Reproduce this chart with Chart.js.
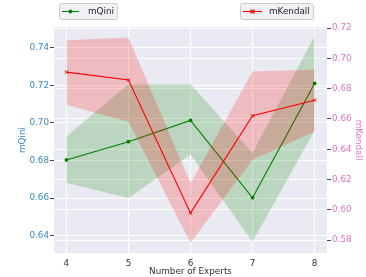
<!DOCTYPE html>
<html>
<head>
<meta charset="utf-8">
<script src="https://cdn.jsdelivr.net/npm/chart.js@4"></script>
<style>
  html, body { margin: 0; padding: 0; background: #fff; }
  #wrap { width: 366px; height: 277px; }
</style>
</head>
<body>
<div id="wrap"><canvas id="chart"></canvas></div>
<script>
// values
const experts = [4, 5, 6, 7, 8];

const qiniMean  = [0.6803, 0.6900, 0.7013, 0.6602, 0.7210];
const qiniUpper = [0.6928, 0.7205, 0.7205, 0.6840, 0.7462];
const qiniLower = [0.6680, 0.6600, 0.6832, 0.6368, 0.6960];

const kendallMean  = [0.6909, 0.6857, 0.5978, 0.6621, 0.6724];
const kendallUpper = [0.7120, 0.7137, 0.6176, 0.6913, 0.6924];
const kendallLower = [0.6694, 0.6581, 0.5782, 0.6330, 0.6517];

const xTicks = [4, 5, 6, 7, 8];
const qiniTicks = [0.64, 0.66, 0.68, 0.70, 0.72, 0.74];
const kendallTicks = [0.58, 0.60, 0.62, 0.64, 0.66, 0.68, 0.70, 0.72];

const QINI_COLOR = '#3a87c6';
const KENDALL_COLOR = '#e377c2';
const FONT = 'DejaVu Sans';

Chart.defaults.font.family = FONT;
Chart.defaults.font.size = 8.8;
Chart.defaults.color = '#333';

const pts = (ys) => ys.map((y, i) => ({ x: experts[i], y: y }));

// grey plot background like seaborn darkgrid
const bgPlugin = {
  id: 'plotBg',
  beforeDraw(chart) {
    const { ctx, chartArea: a } = chart;
    ctx.save();
    ctx.fillStyle = '#eaeaf2';
    ctx.fillRect(a.left, a.top, a.right - a.left, a.bottom - a.top);
    ctx.restore();
  }
};

// two separate legends, one per axis
const legendPlugin = {
  id: 'twoLegends',
  afterDraw(chart) {
    const ctx = chart.ctx;
    const boxes = [
      { x: 59, w: 58, label: 'mQini', color: 'green', marker: 'dot', lineFrom: 62, lineTo: 79, textX: 88 },
      { x: 240, w: 73, label: 'mKendall', color: 'red', marker: 'x', lineFrom: 243, lineTo: 262, textX: 269 }
    ];
    ctx.save();
    boxes.forEach(b => {
      const y = 3, h = 16, r = 2;
      ctx.beginPath();
      ctx.roundRect(b.x + 0.5, y + 0.5, b.w, h, r);
      ctx.fillStyle = 'rgba(238,238,244,0.9)';
      ctx.fill();
      ctx.strokeStyle = '#cccccc';
      ctx.lineWidth = 1;
      ctx.stroke();

      const cy = y + h / 2 + 0.5;
      ctx.beginPath();
      ctx.moveTo(b.lineFrom, cy);
      ctx.lineTo(b.lineTo, cy);
      ctx.strokeStyle = b.color;
      ctx.lineWidth = 1.1;
      ctx.stroke();
      const mx = (b.lineFrom + b.lineTo) / 2;
      if (b.marker === 'dot') {
        ctx.beginPath();
        ctx.arc(mx, cy, 1.9, 0, Math.PI * 2);
        ctx.fillStyle = b.color;
        ctx.fill();
      } else {
        ctx.beginPath();
        ctx.moveTo(mx - 2, cy - 2); ctx.lineTo(mx + 2, cy + 2);
        ctx.moveTo(mx - 2, cy + 2); ctx.lineTo(mx + 2, cy - 2);
        ctx.stroke();
      }
      ctx.fillStyle = '#262626';
      ctx.font = '8.8px "' + FONT + '"';
      ctx.textBaseline = 'middle';
      ctx.textAlign = 'left';
      ctx.fillText(b.label, b.textX, cy);
    });
    ctx.restore();
  }
};

const band = (upper, lower, color, axis, order) => ([
  {
    data: pts(upper), yAxisID: axis, order: order,
    borderWidth: 0, pointRadius: 0, fill: '+1', backgroundColor: color, tension: 0
  },
  {
    data: pts(lower), yAxisID: axis, order: order,
    borderWidth: 0, pointRadius: 0, fill: false, tension: 0
  }
]);

new Chart(document.getElementById('chart'), {
  type: 'line',
  data: {
    datasets: [
      ...band(qiniUpper, qiniLower, 'rgba(0,128,0,0.2)', 'y', 3),
      {
        label: 'mQini', data: pts(qiniMean), yAxisID: 'y', order: 2,
        borderColor: 'green', borderWidth: 1.1, backgroundColor: 'green',
        pointRadius: 1.9, pointBorderWidth: 0, pointStyle: 'circle', fill: false
      },
      ...band(kendallUpper, kendallLower, 'rgba(255,0,0,0.2)', 'y1', 1),
      {
        label: 'mKendall', data: pts(kendallMean), yAxisID: 'y1', order: 0,
        borderColor: 'red', borderWidth: 1.1, backgroundColor: 'red',
        pointRadius: 2.3, pointBorderWidth: 1, pointBorderColor: 'red', pointStyle: 'crossRot', fill: false
      }
    ]
  },
  options: {
    responsive: true,
    maintainAspectRatio: false,
    animation: false,
    layout: { padding: { left: 13, right: 0, top: 27, bottom: 0 } },
    plugins: {
      legend: { display: false },
      tooltip: { enabled: false }
    },
    scales: {
      x: {
        type: 'linear',
        min: 3.8, max: 8.2,
        afterBuildTicks: (s) => { s.ticks = xTicks.map(v => ({ value: v })); },
        afterFit: (s) => { s.height = 24; },
        grid: { color: '#ffffff', lineWidth: 1, drawTicks: false },
        border: { display: false },
        ticks: { color: '#333', padding: 5, font: { size: 8.8 } },
        title: { display: true, text: 'Number of Experts', color: '#333', font: { size: 8.8 }, padding: { top: 0, bottom: 0 } }
      },
      y: {
        type: 'linear', position: 'left',
        min: 0.6308, max: 0.751,
        afterBuildTicks: (s) => { s.ticks = qiniTicks.map(v => ({ value: v })); },
        afterFit: (s) => { s.width = 41; },
        grid: { color: '#ffffff', lineWidth: 1, tickColor: '#444', tickLength: 4 },
        border: { display: false },
        ticks: { color: QINI_COLOR, padding: 1, callback: (v) => v.toFixed(2) },
        title: { display: true, text: 'mQini', color: QINI_COLOR, font: { size: 8.8 } }
      },
      y1: {
        type: 'linear', position: 'right',
        min: 0.5715, max: 0.7207,
        afterBuildTicks: (s) => { s.ticks = kendallTicks.map(v => ({ value: v })); },
        afterFit: (s) => { s.width = 39; },
        grid: { color: '#ffffff', lineWidth: 1, tickColor: '#444', tickLength: 4 },
        border: { display: false },
        ticks: { color: KENDALL_COLOR, padding: 1, callback: (v) => v.toFixed(2) },
        title: { display: true, text: 'mKendall', color: KENDALL_COLOR, font: { size: 8.8 }, padding: { top: 2, bottom: 4 } }
      }
    }
  },
  plugins: [bgPlugin, legendPlugin]
});
</script>
</body>
</html>
